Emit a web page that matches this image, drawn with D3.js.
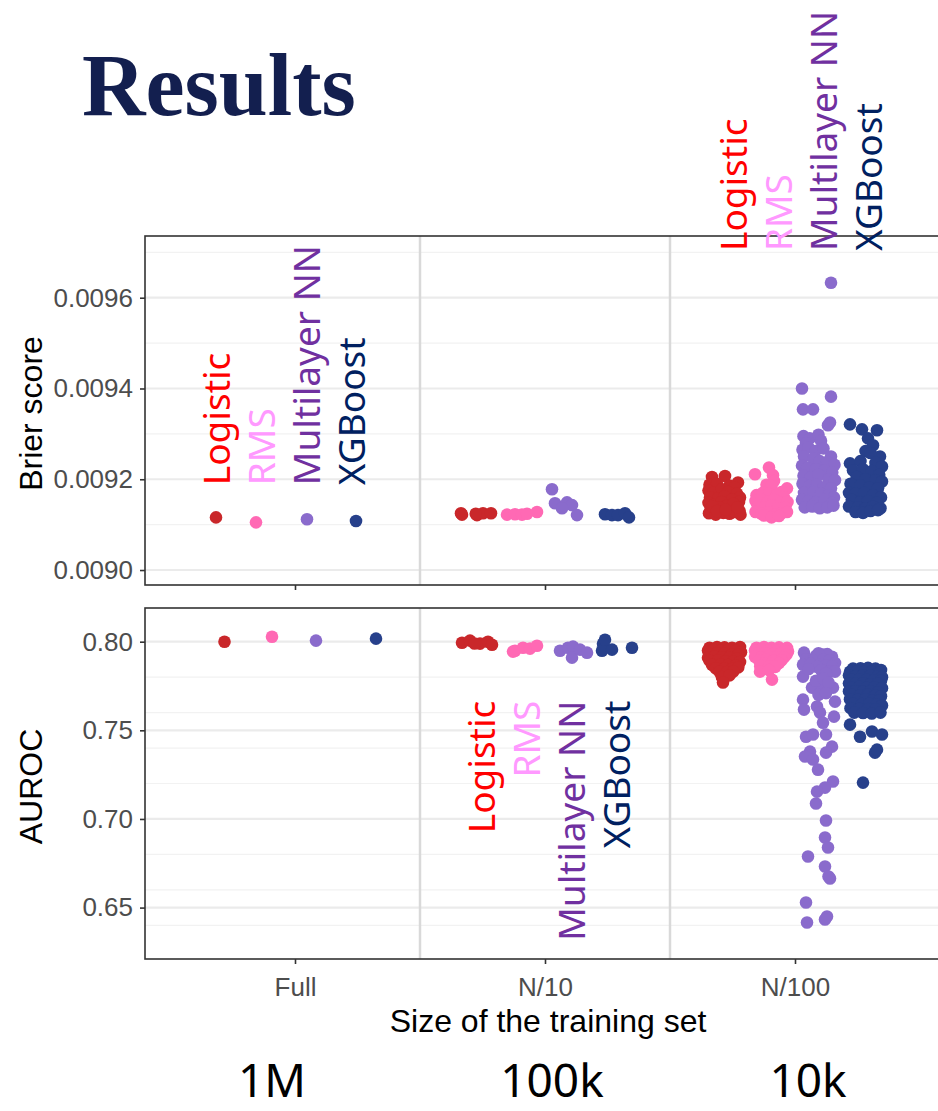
<!DOCTYPE html>
<html>
<head>
<meta charset="utf-8">
<script src="https://cdn.jsdelivr.net/npm/d3@7"></script>
<style>
  body { margin: 0; background: #fff; }
  svg { display: block; }
  .tick text { font-family: "Liberation Sans", Arial, sans-serif; fill: #4d4d4d; }
</style>
</head>
<body>
<svg id="chart"></svg>
<script>
// categories
var sizes = ["Full", "N/10", "N/100"];
var sizeNames = ["1M", "100k", "10k"];
var methodKeys = ["LR", "RMS", "NN", "XGB"];
var methods = ["Logistic", "RMS", "Multilayer NN", "XGBoost"];

// tick labels
var brierTicks = [0.0090, 0.0092, 0.0094, 0.0096];
var aurocTicks = [0.65, 0.70, 0.75, 0.80];

// runs: [method, jitter (fraction of a category), value]
var brierFull = [["LR", -0.034, 0.009116], ["RMS", -0.062, 0.009105], ["NN", -0.046, 0.009112], ["XGB", -0.038, 0.009108]];

var brierN10 = [
  ["LR", -0.054, 0.009125], ["LR", 0.010, 0.009121], ["LR", 0.034, 0.009125], ["LR", 0.066, 0.009125], ["LR", -0.050, 0.009122], ["LR", 0.005, 0.009124],
  ["RMS", -0.058, 0.009122], ["RMS", -0.026, 0.009123], ["RMS", 0.002, 0.009122], ["RMS", 0.022, 0.009124], ["RMS", 0.062, 0.009128],
  ["NN", -0.066, 0.009178], ["NN", -0.054, 0.009147], ["NN", -0.006, 0.009149], ["NN", 0.014, 0.009143], ["NN", 0.034, 0.009121], ["NN", -0.026, 0.009136],
  ["XGB", -0.042, 0.009123], ["XGB", -0.014, 0.009121], ["XGB", 0.010, 0.009121], ["XGB", 0.038, 0.009125], ["XGB", 0.054, 0.009116]
];

var brierN100 = [
  ["LR", -0.050, 0.009205], ["LR", 0.002, 0.009207], ["LR", 0.054, 0.009193],
  ["LR", -0.060, 0.009188], ["LR", -0.030, 0.009190], ["LR", 0.020, 0.009186], ["LR", 0.040, 0.009182],
  ["LR", -0.064, 0.009175], ["LR", -0.045, 0.009170], ["LR", -0.010, 0.009178], ["LR", 0.015, 0.009172], ["LR", 0.050, 0.009168], ["LR", 0.062, 0.009160],
  ["LR", -0.058, 0.009160], ["LR", -0.025, 0.009158], ["LR", 0.000, 0.009162], ["LR", 0.030, 0.009155], ["LR", 0.058, 0.009150],
  ["LR", -0.064, 0.009148], ["LR", -0.040, 0.009145], ["LR", -0.012, 0.009150], ["LR", 0.010, 0.009142], ["LR", 0.045, 0.009140],
  ["LR", -0.055, 0.009135], ["LR", -0.020, 0.009138], ["LR", 0.025, 0.009132], ["LR", 0.060, 0.009130],
  ["LR", -0.062, 0.009125], ["LR", -0.035, 0.009122], ["LR", -0.005, 0.009126], ["LR", 0.020, 0.009124], ["LR", 0.040, 0.009128], ["LR", 0.064, 0.009122],
  ["LR", -0.048, 0.009140], ["LR", 0.035, 0.009146], ["LR", -0.030, 0.009130], ["LR", 0.005, 0.009133], ["LR", 0.052, 0.009138],

  ["RMS", -0.066, 0.009211], ["RMS", -0.010, 0.009226], ["RMS", 0.006, 0.009209], ["RMS", 0.010, 0.009196],
  ["RMS", -0.020, 0.009188], ["RMS", 0.000, 0.009185], ["RMS", 0.062, 0.009180], ["RMS", 0.040, 0.009172],
  ["RMS", -0.060, 0.009165], ["RMS", -0.035, 0.009170], ["RMS", -0.010, 0.009168], ["RMS", 0.020, 0.009165], ["RMS", 0.050, 0.009160],
  ["RMS", -0.064, 0.009152], ["RMS", -0.040, 0.009155], ["RMS", -0.015, 0.009150], ["RMS", 0.010, 0.009155], ["RMS", 0.035, 0.009148], ["RMS", 0.064, 0.009150],
  ["RMS", -0.055, 0.009140], ["RMS", -0.025, 0.009138], ["RMS", 0.000, 0.009142], ["RMS", 0.025, 0.009136], ["RMS", 0.055, 0.009138],
  ["RMS", -0.064, 0.009128], ["RMS", -0.040, 0.009124], ["RMS", -0.010, 0.009127], ["RMS", 0.015, 0.009122], ["RMS", 0.040, 0.009125], ["RMS", 0.062, 0.009128],
  ["RMS", -0.030, 0.009120], ["RMS", 0.000, 0.009116], ["RMS", 0.030, 0.009119],

  ["NN", 0.050, 0.009633], ["NN", -0.066, 0.009400], ["NN", 0.050, 0.009382], ["NN", -0.062, 0.009354], ["NN", -0.022, 0.009354], ["NN", 0.038, 0.009319], ["NN", 0.046, 0.009325],
  ["NN", -0.060, 0.009295], ["NN", -0.035, 0.009290], ["NN", 0.000, 0.009298], ["NN", -0.050, 0.009280], ["NN", 0.010, 0.009285],
  ["NN", -0.064, 0.009265], ["NN", -0.040, 0.009270], ["NN", -0.012, 0.009262], ["NN", 0.020, 0.009268], ["NN", 0.050, 0.009250],
  ["NN", -0.058, 0.009250], ["NN", -0.020, 0.009245], ["NN", 0.005, 0.009240], ["NN", 0.035, 0.009238], ["NN", 0.064, 0.009232],
  ["NN", -0.066, 0.009230], ["NN", -0.045, 0.009225], ["NN", -0.010, 0.009222], ["NN", 0.025, 0.009220], ["NN", 0.055, 0.009215],
  ["NN", -0.060, 0.009208], ["NN", -0.030, 0.009205], ["NN", 0.000, 0.009210], ["NN", 0.040, 0.009200], ["NN", 0.066, 0.009198],
  ["NN", -0.064, 0.009190], ["NN", -0.035, 0.009185], ["NN", -0.005, 0.009188], ["NN", 0.020, 0.009182], ["NN", 0.050, 0.009180],
  ["NN", -0.058, 0.009170], ["NN", -0.020, 0.009172], ["NN", 0.010, 0.009168], ["NN", 0.040, 0.009165], ["NN", 0.062, 0.009160],
  ["NN", -0.066, 0.009155], ["NN", -0.040, 0.009152], ["NN", -0.010, 0.009150], ["NN", 0.025, 0.009155], ["NN", 0.055, 0.009148],
  ["NN", -0.055, 0.009138], ["NN", -0.025, 0.009140], ["NN", 0.005, 0.009136], ["NN", 0.035, 0.009138], ["NN", 0.060, 0.009142],

  ["XGB", -0.062, 0.009321], ["XGB", -0.014, 0.009310], ["XGB", 0.046, 0.009308], ["XGB", 0.010, 0.009290], ["XGB", 0.030, 0.009275],
  ["XGB", 0.058, 0.009250], ["XGB", 0.000, 0.009262], ["XGB", 0.020, 0.009258], ["XGB", -0.062, 0.009235],
  ["XGB", -0.020, 0.009240], ["XGB", 0.040, 0.009236], ["XGB", 0.066, 0.009228],
  ["XGB", -0.050, 0.009220], ["XGB", -0.010, 0.009222], ["XGB", 0.025, 0.009218], ["XGB", 0.055, 0.009210],
  ["XGB", -0.035, 0.009205], ["XGB", 0.000, 0.009200], ["XGB", 0.040, 0.009198], ["XGB", 0.066, 0.009195],
  ["XGB", -0.060, 0.009190], ["XGB", -0.020, 0.009186], ["XGB", 0.015, 0.009182], ["XGB", 0.050, 0.009180],
  ["XGB", -0.066, 0.009170], ["XGB", -0.040, 0.009168], ["XGB", -0.005, 0.009170], ["XGB", 0.030, 0.009165], ["XGB", 0.062, 0.009160],
  ["XGB", -0.055, 0.009155], ["XGB", -0.020, 0.009150], ["XGB", 0.010, 0.009152], ["XGB", 0.045, 0.009148],
  ["XGB", -0.066, 0.009140], ["XGB", -0.030, 0.009138], ["XGB", 0.000, 0.009135], ["XGB", 0.030, 0.009140], ["XGB", 0.060, 0.009136],
  ["XGB", -0.040, 0.009128], ["XGB", -0.010, 0.009126], ["XGB", 0.020, 0.009130], ["XGB", 0.050, 0.009132]
];

var aurocFull = [["LR", 0.000, 0.8000], ["RMS", 0.002, 0.8028], ["NN", -0.010, 0.8006], ["XGB", 0.042, 0.8017]];

var aurocN10 = [
  ["LR", -0.050, 0.7994], ["LR", -0.018, 0.8006], ["LR", 0.022, 0.7989], ["LR", 0.054, 0.8000], ["LR", 0.070, 0.7983], ["LR", 0.000, 0.7990],
  ["RMS", -0.026, 0.7949], ["RMS", 0.006, 0.7966], ["RMS", 0.034, 0.7961], ["RMS", 0.062, 0.7977], ["RMS", -0.034, 0.7944],
  ["NN", -0.034, 0.7949], ["NN", -0.002, 0.7966], ["NN", 0.018, 0.7972], ["NN", 0.014, 0.7910], ["NN", 0.046, 0.7955], ["NN", 0.074, 0.7938],
  ["XGB", -0.050, 0.7989], ["XGB", -0.054, 0.7949], ["XGB", -0.014, 0.7955], ["XGB", -0.042, 0.8011], ["XGB", 0.066, 0.7966]
];

var aurocN100 = [
  ["LR", -0.060, 0.7966], ["LR", -0.030, 0.7970], ["LR", 0.000, 0.7968], ["LR", 0.030, 0.7966], ["LR", 0.062, 0.7970],
  ["LR", -0.066, 0.7950], ["LR", -0.045, 0.7955], ["LR", -0.015, 0.7950], ["LR", 0.015, 0.7955], ["LR", 0.045, 0.7948], ["LR", 0.066, 0.7940],
  ["LR", -0.060, 0.7930], ["LR", -0.030, 0.7935], ["LR", 0.000, 0.7932], ["LR", 0.030, 0.7928], ["LR", 0.055, 0.7925],
  ["LR", -0.066, 0.7910], ["LR", -0.040, 0.7915], ["LR", -0.010, 0.7912], ["LR", 0.020, 0.7910], ["LR", 0.050, 0.7905],
  ["LR", -0.060, 0.7893], ["LR", -0.025, 0.7895], ["LR", 0.005, 0.7890], ["LR", 0.035, 0.7888], ["LR", 0.062, 0.7885],
  ["LR", -0.050, 0.7870], ["LR", -0.015, 0.7872], ["LR", 0.015, 0.7868], ["LR", 0.045, 0.7865],
  ["LR", -0.035, 0.7850], ["LR", 0.000, 0.7848], ["LR", 0.030, 0.7845], ["LR", 0.055, 0.7855],
  ["LR", -0.020, 0.7830], ["LR", 0.010, 0.7828], ["LR", 0.035, 0.7832],
  ["LR", -0.010, 0.7800], ["LR", 0.020, 0.7810], ["LR", -0.006, 0.7770],

  ["RMS", -0.060, 0.7966], ["RMS", -0.030, 0.7970], ["RMS", 0.000, 0.7966], ["RMS", 0.030, 0.7968], ["RMS", 0.062, 0.7965],
  ["RMS", -0.066, 0.7950], ["RMS", -0.040, 0.7955], ["RMS", -0.010, 0.7950], ["RMS", 0.020, 0.7952], ["RMS", 0.050, 0.7948], ["RMS", 0.066, 0.7945],
  ["RMS", -0.060, 0.7932], ["RMS", -0.025, 0.7935], ["RMS", 0.005, 0.7930], ["RMS", 0.035, 0.7932], ["RMS", 0.060, 0.7928],
  ["RMS", -0.066, 0.7915], ["RMS", -0.040, 0.7912], ["RMS", -0.010, 0.7915], ["RMS", 0.020, 0.7910], ["RMS", 0.050, 0.7912],
  ["RMS", -0.050, 0.7895], ["RMS", -0.020, 0.7898], ["RMS", 0.010, 0.7893], ["RMS", 0.040, 0.7895],
  ["RMS", -0.030, 0.7878], ["RMS", 0.000, 0.7875], ["RMS", 0.030, 0.7880],
  ["RMS", -0.045, 0.7862], ["RMS", -0.010, 0.7860], ["RMS", 0.015, 0.7858],
  ["RMS", -0.046, 0.7831], ["RMS", -0.010, 0.7840], ["RMS", 0.002, 0.7786],

  ["NN", -0.058, 0.7938], ["NN", 0.018, 0.7927], ["NN", 0.054, 0.7915], ["NN", 0.035, 0.7930], ["NN", -0.010, 0.7920], ["NN", 0.000, 0.7935],
  ["NN", -0.050, 0.7900], ["NN", -0.020, 0.7895], ["NN", 0.020, 0.7900], ["NN", 0.045, 0.7895], ["NN", 0.066, 0.7880],
  ["NN", -0.062, 0.7870], ["NN", -0.030, 0.7875], ["NN", 0.005, 0.7870], ["NN", 0.030, 0.7865], ["NN", 0.055, 0.7860],
  ["NN", -0.062, 0.7803], ["NN", -0.006, 0.7859], ["NN", 0.046, 0.7831], ["NN", 0.066, 0.7831], ["NN", -0.040, 0.7845], ["NN", 0.010, 0.7840], ["NN", 0.030, 0.7820],
  ["NN", -0.026, 0.7741], ["NN", 0.014, 0.7729], ["NN", 0.058, 0.7741], ["NN", -0.010, 0.7780], ["NN", 0.020, 0.7790], ["NN", 0.040, 0.7770],
  ["NN", -0.062, 0.7673], ["NN", -0.058, 0.7617], ["NN", -0.006, 0.7634], ["NN", 0.066, 0.7662], ["NN", 0.006, 0.7600], ["NN", 0.062, 0.7577], ["NN", 0.018, 0.7543], ["NN", 0.000, 0.7700], ["NN", 0.030, 0.7710],
  ["NN", -0.050, 0.7464], ["NN", -0.022, 0.7476], ["NN", 0.030, 0.7476], ["NN", 0.054, 0.7408], ["NN", 0.030, 0.7374], ["NN", -0.034, 0.7380],
  ["NN", -0.054, 0.7352], ["NN", -0.022, 0.7335], ["NN", -0.002, 0.7278], ["NN", 0.058, 0.7211], ["NN", 0.026, 0.7177], ["NN", -0.006, 0.7154],
  ["NN", -0.010, 0.7087], ["NN", 0.030, 0.6991], ["NN", 0.026, 0.6895], ["NN", 0.038, 0.6839], ["NN", -0.042, 0.6788], ["NN", 0.026, 0.6732],
  ["NN", 0.046, 0.6664], ["NN", 0.040, 0.6675], ["NN", -0.050, 0.6529], ["NN", -0.046, 0.6416], ["NN", 0.034, 0.6450], ["NN", 0.026, 0.6433],

  ["XGB", -0.050, 0.7848], ["XGB", -0.020, 0.7850], ["XGB", 0.010, 0.7852], ["XGB", 0.040, 0.7848], ["XGB", 0.062, 0.7840],
  ["XGB", -0.062, 0.7830], ["XGB", -0.035, 0.7832], ["XGB", -0.005, 0.7828], ["XGB", 0.025, 0.7830], ["XGB", 0.055, 0.7825],
  ["XGB", -0.066, 0.7810], ["XGB", -0.040, 0.7805], ["XGB", -0.010, 0.7810], ["XGB", 0.020, 0.7808], ["XGB", 0.050, 0.7805], ["XGB", 0.066, 0.7800],
  ["XGB", -0.055, 0.7785], ["XGB", -0.025, 0.7788], ["XGB", 0.005, 0.7785], ["XGB", 0.035, 0.7782], ["XGB", 0.062, 0.7780],
  ["XGB", -0.066, 0.7765], ["XGB", -0.040, 0.7762], ["XGB", -0.010, 0.7765], ["XGB", 0.020, 0.7760], ["XGB", 0.050, 0.7762],
  ["XGB", -0.055, 0.7742], ["XGB", -0.025, 0.7745], ["XGB", 0.005, 0.7740], ["XGB", 0.035, 0.7742], ["XGB", 0.066, 0.7738],
  ["XGB", -0.066, 0.7720], ["XGB", -0.040, 0.7722], ["XGB", -0.010, 0.7718], ["XGB", 0.020, 0.7720], ["XGB", 0.050, 0.7715],
  ["XGB", -0.055, 0.7700], ["XGB", -0.020, 0.7698], ["XGB", 0.010, 0.7700], ["XGB", 0.040, 0.7695], ["XGB", 0.062, 0.7692],
  ["XGB", -0.062, 0.7675], ["XGB", -0.030, 0.7672], ["XGB", 0.000, 0.7675], ["XGB", 0.030, 0.7670], ["XGB", 0.055, 0.7668],
  ["XGB", -0.050, 0.7650], ["XGB", -0.015, 0.7648], ["XGB", 0.015, 0.7650], ["XGB", 0.045, 0.7645], ["XGB", 0.066, 0.7640],
  ["XGB", -0.060, 0.7625], ["XGB", -0.025, 0.7622], ["XGB", 0.010, 0.7620], ["XGB", 0.040, 0.7618],
  ["XGB", -0.045, 0.7600], ["XGB", -0.010, 0.7598], ["XGB", 0.025, 0.7595], ["XGB", 0.060, 0.7600],
  ["XGB", -0.062, 0.7532], ["XGB", -0.022, 0.7464], ["XGB", 0.026, 0.7493], ["XGB", 0.066, 0.7476], ["XGB", 0.038, 0.7374], ["XGB", 0.046, 0.7391], ["XGB", -0.010, 0.7205]
];

// colours
var pointColor = { LR: "#c9272a", RMS: "#ff69b4", NN: "#8a6bcc", XGB: "#27408b" };
var labelColor = { LR: "#ff0000", RMS: "#ff99ff", NN: "#7030a0", XGB: "#002060" };

// set the dimensions of the page
var width = 938, height = 1111;
var plotLeft = 145, plotRight = 945;

var svg = d3.select("#chart")
  .attr("width", width)
  .attr("height", height);

// title
svg.append("text")
  .attr("x", 82)
  .attr("y", 115)
  .style("font-family", "'Liberation Serif', 'DejaVu Serif', serif")
  .style("font-weight", "bold")
  .style("font-size", "88px")
  .style("fill", "#131f4f")
  .text("Results");

// set the ranges
var x = d3.scalePoint().domain(sizes).range([plotLeft, plotRight]).padding(0.6);
var dodge = d3.scalePoint().domain(methodKeys).range([-70.5, 70.5]);

function rows(list, size) {
  return list.map(function(d) {
    return { size: size, method: d[0], jitter: d[1], value: d[2] };
  });
}

var panels = [
  {
    title: "Brier score",
    y: d3.scaleLinear().domain([0.008967, 0.009736]).range([585, 236]),
    ticks: brierTicks,
    format: d3.format(".4f"),
    data: rows(brierFull, "Full").concat(rows(brierN10, "N/10"), rows(brierN100, "N/100")),
    labels: { size: "N/100", shift: -48, value: 0.009703, anchor: "start" },
    labels2: { size: "Full", shift: -65, value: 0.009187, anchor: "start" }
  },
  {
    title: "AUROC",
    y: d3.scaleLinear().domain([0.621, 0.819]).range([959, 608]),
    ticks: aurocTicks,
    format: d3.format(".2f"),
    data: rows(aurocFull, "Full").concat(rows(aurocN10, "N/10"), rows(aurocN100, "N/100")),
    labels: { size: "N/10", shift: -50, value: 0.7667, anchor: "end" }
  }
];

panels.forEach(function(p) {
  var y = p.y;
  var top = y.range()[1], bottom = y.range()[0];
  var g = svg.append("g");

  // grid lines
  var minor = y.ticks(8).filter(function(t) {
    return !p.ticks.some(function(m) { return Math.abs(m - t) < 1e-9; });
  });
  g.selectAll(".minor").data(minor).enter().append("line")
    .attr("x1", plotLeft).attr("x2", plotRight)
    .attr("y1", function(d) { return y(d); })
    .attr("y2", function(d) { return y(d); })
    .style("stroke", "#f2f2f2").style("stroke-width", 1.2);
  g.selectAll(".major").data(p.ticks).enter().append("line")
    .attr("x1", plotLeft).attr("x2", plotRight)
    .attr("y1", function(d) { return y(d); })
    .attr("y2", function(d) { return y(d); })
    .style("stroke", "#ebebeb").style("stroke-width", 2.2);

  // separators between sizes
  g.selectAll(".sep").data(sizes.slice(1)).enter().append("line")
    .attr("x1", function(d) { return x(d) - x.step() / 2; })
    .attr("x2", function(d) { return x(d) - x.step() / 2; })
    .attr("y1", top).attr("y2", bottom)
    .style("stroke", "#d9d9d9").style("stroke-width", 2.5);

  // points
  g.selectAll(".dot").data(p.data).enter().append("circle")
    .attr("cx", function(d) { return x(d.size) + dodge(d.method) + d.jitter * x.step(); })
    .attr("cy", function(d) { return y(d.value); })
    .attr("r", 6.3)
    .style("fill", function(d) { return pointColor[d.method]; });

  // panel border
  g.append("rect")
    .attr("x", plotLeft).attr("y", top)
    .attr("width", plotRight - plotLeft).attr("height", bottom - top)
    .style("fill", "none").style("stroke", "#333333").style("stroke-width", 1.6);

  // Add the Y Axis
  var ay = g.append("g")
    .attr("transform", "translate(" + plotLeft + ",0)")
    .call(d3.axisLeft(y).tickValues(p.ticks).tickFormat(p.format).tickSize(5).tickPadding(7));
  ay.select(".domain").remove();
  ay.selectAll(".tick line").style("stroke", "#333333").style("stroke-width", 1.6);
  ay.selectAll(".tick text").style("font-size", "26px");

  // x ticks on every panel
  var ax = g.append("g")
    .attr("transform", "translate(0," + bottom + ")")
    .call(d3.axisBottom(x).tickSize(5).tickPadding(14));
  ax.select(".domain").remove();
  ax.selectAll(".tick line").style("stroke", "#333333").style("stroke-width", 1.6);
  ax.selectAll(".tick text").style("font-size", "26px");
  if (p.title === "Brier score") ax.selectAll(".tick text").remove();

  // y axis title
  svg.append("text")
    .attr("transform", "translate(42," + ((top + bottom) / 2 + 3) + ") rotate(-90)")
    .style("text-anchor", "middle")
    .style("font-family", "'Liberation Sans', Arial, sans-serif")
    .style("font-size", "32px")
    .text(p.title);
});

// method labels drawn over the panels
function addLabels(spot, y) {
  methodKeys.forEach(function(k, i) {
    svg.append("text")
      .attr("transform", "translate(" + (x(spot.size) + spot.shift + i * 45) + "," + y(spot.value) + ") rotate(-90)")
      .style("text-anchor", spot.anchor)
      .style("font-family", "'Noto Sans', 'Open Sans', sans-serif")
      .style("font-size", "37px")
      .style("fill", labelColor[k])
      .text(methods[i]);
  });
}
addLabels(panels[0].labels2, panels[0].y);
addLabels(panels[0].labels, panels[0].y);
addLabels(panels[1].labels, panels[1].y);

// x axis title
svg.append("text")
  .attr("x", (plotLeft + plotRight) / 2 + 3)
  .attr("y", 1032)
  .style("text-anchor", "middle")
  .style("font-family", "'Liberation Sans', Arial, sans-serif")
  .style("font-size", "32px")
  .text("Size of the training set");

// sample sizes under the axis
var nameShift = [-23, 7, 13];
svg.selectAll(".sizeName").data(sizes).enter().append("text")
  .attr("x", function(d, i) { return x(d) + nameShift[i]; })
  .attr("y", 1097)
  .style("text-anchor", "middle")
  .style("font-family", "'Noto Sans', sans-serif")
  .style("font-size", "46px")
  .style("fill", "#000")
  .text(function(d, i) { return sizeNames[i]; });
</script>
</body>
</html>
